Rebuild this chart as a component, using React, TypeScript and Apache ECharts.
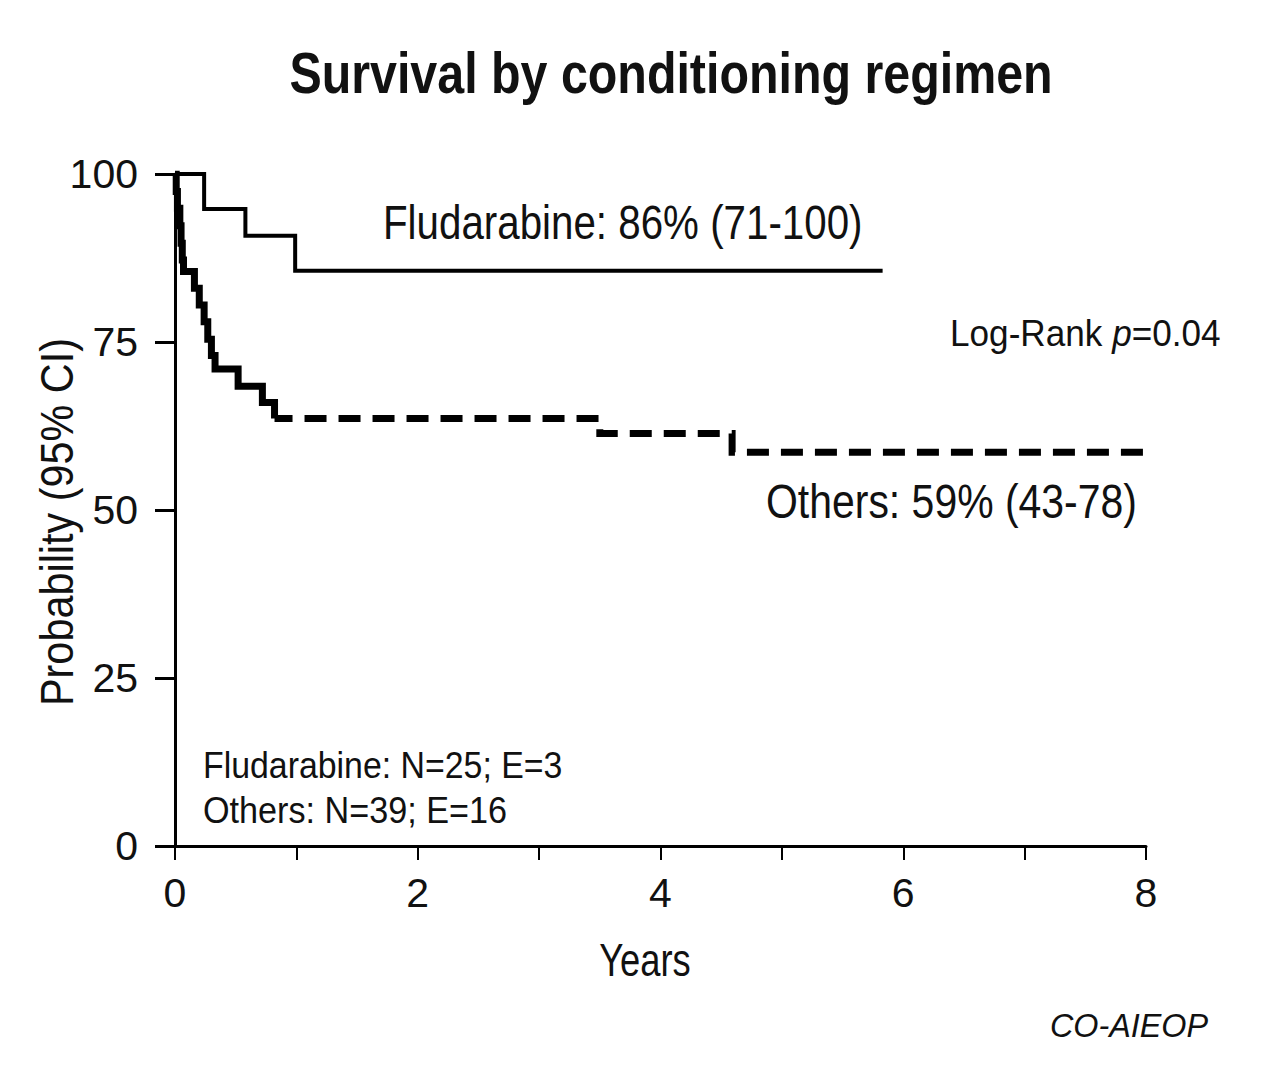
import React, { useEffect, useRef } from "react";
import * as echarts from "echarts";

// Kaplan-Meier step data (years, survival %)
const fludTimes = [0, 0.24, 0.58, 0.99, 5.83];
const fludSurv = [100, 94.8, 90.8, 85.6, 85.6];

const othersEarlyTimes = [0, 0.01, 0.02, 0.04, 0.05, 0.06, 0.07, 0.16, 0.2, 0.24, 0.27, 0.3, 0.33, 0.52, 0.72, 0.82];
const othersEarlySurv = [100, 97.4, 94.9, 92.3, 89.7, 87.2, 85.5, 83.0, 80.5, 78.0, 75.4, 73.0, 71.0, 68.4, 66.0, 63.6];

const othersLateTimes = [0.82, 3.5, 4.59, 8];
const othersLateSurv = [63.6, 61.4, 58.6, 58.6];

const yTicks = [0, 25, 50, 75, 100];
const xLabelValues = [0, 2, 4, 6, 8];

const FONT = "'Liberation Sans', Arial, Helvetica, sans-serif";

const zip = (xs: number[], ys: number[]) => xs.map((x, i) => [x, ys[i]]);

const txt = (
  text: string,
  x: number,
  y: number,
  fontSize: number,
  scaleX: number,
  align: string,
  extra: any = {},
  rotation = 0
) => ({
  type: "text",
  x,
  y,
  scaleX,
  rotation,
  style: {
    text,
    fontFamily: FONT,
    fontSize,
    fill: "#111",
    textAlign: align,
    textVerticalAlign: "middle",
    ...extra,
  },
});

export default function App() {
  const ref = useRef<HTMLDivElement>(null);
  useEffect(() => {
    if (!ref.current) return;
    const chart = echarts.init(ref.current, undefined, { renderer: "svg" });
    chart.setOption({
      animation: false,
      backgroundColor: "#ffffff",
      grid: { left: 175, right: 134, top: 174, bottom: 246 },
      xAxis: {
        type: "value",
        min: 0,
        max: 8,
        interval: 1,
        axisLine: { show: true, onZero: false, lineStyle: { color: "#000", width: 3 } },
        axisTick: { show: true, length: 14, lineStyle: { color: "#000", width: 2 } },
        splitLine: { show: false },
        axisLabel: {
          margin: 26,
          color: "#111",
          fontFamily: FONT,
          fontSize: 41,
          formatter: (v: number) => (xLabelValues.includes(v) ? String(v) : ""),
        },
      },
      yAxis: {
        type: "value",
        min: 0,
        max: 100,
        interval: 25,
        axisLine: { show: true, lineStyle: { color: "#000", width: 3 } },
        axisTick: { show: true, length: 20, lineStyle: { color: "#000", width: 3 } },
        splitLine: { show: false },
        axisLabel: {
          margin: 37,
          color: "#111",
          fontFamily: FONT,
          fontSize: 41,
          formatter: (v: number) => (yTicks.includes(v) ? String(v) : ""),
        },
      },
      series: [
        {
          type: "line",
          step: "end",
          symbol: "none",
          data: zip(fludTimes, fludSurv),
          lineStyle: { color: "#000", width: 4, cap: "butt", join: "miter" },
        },
        {
          type: "line",
          step: "end",
          symbol: "none",
          data: zip(othersEarlyTimes, othersEarlySurv),
          lineStyle: { color: "#000", width: 7, cap: "butt", join: "miter" },
        },
        {
          type: "line",
          step: "end",
          symbol: "none",
          data: zip(othersLateTimes, othersLateSurv),
          lineStyle: { color: "#000", width: 7, type: [22, 12], dashOffset: 4, cap: "butt", join: "miter" },
        },
      ],
      graphic: [
        txt("Survival by conditioning regimen", 671, 73, 58, 0.834, "center", { fontWeight: "bold" }),
        txt("Probability (95% CI)", 57, 522, 46, 0.9, "center", {}, Math.PI / 2),
        txt("Years", 645, 960, 46, 0.79, "center"),
        txt("Fludarabine: 86% (71-100)", 383, 222, 48, 0.84, "left"),
        txt("Log-Rank {i|p}=0.04", 950, 333, 37, 0.95, "left", {
          rich: { i: { fontFamily: FONT, fontSize: 37, fontStyle: "italic", fill: "#111" } },
        }),
        txt("Others: 59% (43-78)", 766, 501, 48, 0.853, "left"),
        txt("Fludarabine: N=25; E=3", 203, 765, 37, 0.915, "left"),
        txt("Others: N=39; E=16", 203, 811, 37, 0.924, "left"),
        txt("CO-AIEOP", 1208, 1025, 33, 0.98, "right", { fontStyle: "italic" }),
      ],
    });
    return () => chart.dispose();
  }, []);
  return (
    <div
      ref={ref}
      style={{ position: "absolute", left: 0, top: 0, width: 1280, height: 1092 }}
    />
  );
}
